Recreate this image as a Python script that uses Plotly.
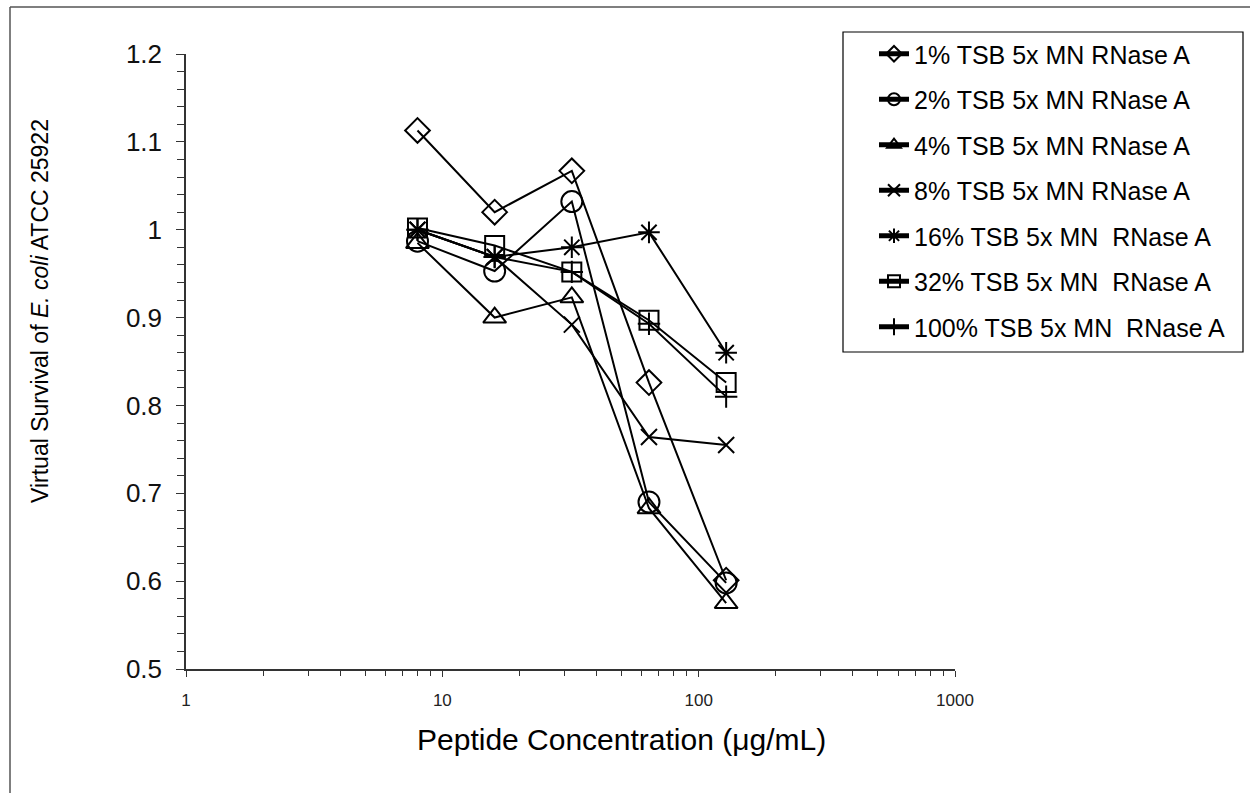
import plotly.graph_objects as go

conc = [8, 16, 32, 64, 128]
series_names = [
    "1% TSB 5x MN RNase A",
    "2% TSB 5x MN RNase A",
    "4% TSB 5x MN RNase A",
    "8% TSB 5x MN RNase A",
    "16% TSB 5x MN  RNase A",
    "32% TSB 5x MN  RNase A",
    "100% TSB 5x MN  RNase A",
]
tsb1 = [1.113, 1.020, 1.067, 0.826, 0.601]
tsb2 = [0.987, 0.953, 1.032, 0.690, 0.598]
tsb4 = [0.985, 0.900, 0.923, 0.683, 0.575]
tsb8 = [1.000, 0.969, 0.892, 0.764, 0.755]
tsb16 = [1.000, 0.969, 0.980, 0.997, 0.860]
tsb32 = [1.002, 0.982, 0.952, 0.897, 0.826]
tsb100 = [1.000, 0.969, 0.952, 0.893, 0.810]
series_values = [tsb1, tsb2, tsb4, tsb8, tsb16, tsb32, tsb100]

symbols = ["diamond-open", "circle-open", "triangle-up-open", "x-thin-open",
           "asterisk-open", "square-open", "cross-thin-open"]
sizes = [19, 21, 20, 16, 18, 19, 16]

x_tickvals = [1, 10, 100, 1000]
x_ticktext = ["1", "10", "100", "1000"]

FONT = "Liberation Sans, Arial, sans-serif"

fig = go.Figure()
for i, (name, vals) in enumerate(zip(series_names, series_values)):
    fig.add_trace(go.Scatter(
        x=conc, y=vals, name=name, mode="lines+markers",
        line=dict(color="black", width=2),
        marker=dict(symbol=symbols[i], size=sizes[i], color="black",
                    line=dict(color="black", width=2)),
        legendgroup=f"g{i}",
    ))

L, R, T, B = 186, 955, 54, 669
W, H = 1250, 793
pw, ph = R - L, B - T

def px(x):
    return (x - L) / pw

def py(y):
    return (B - y) / ph

fig.update_layout(
    width=W, height=H,
    margin=dict(l=L, r=W - R, t=T, b=H - B, autoexpand=False),
    paper_bgcolor="white", plot_bgcolor="white",
    font=dict(family=FONT, color="black"),
    showlegend=True,
    legend=dict(
        x=px(874), y=py(31), xanchor="left", yanchor="top",
        borderwidth=0,
        font=dict(size=25, family=FONT, color="black"),
        tracegroupgap=10, itemsizing="constant",
        traceorder="grouped",
        bgcolor="rgba(0,0,0,0)",
    ),
    xaxis=dict(
        type="log", range=[0, 3],
        tickvals=x_tickvals, ticktext=x_ticktext,
        ticks="outside", ticklen=6, tickwidth=1, tickcolor="#333",
        tickfont=dict(size=17, color="#222"),
        ticklabelstandoff=9,
        minor=dict(ticks="outside", ticklen=5, tickwidth=1, tickcolor="#333",
                   tickvals=[m * d for d in (1, 10, 100) for m in range(2, 10)]),
        showline=True, linecolor="#333", linewidth=1.5,
        showgrid=False, zeroline=False,
    ),
    yaxis=dict(
        range=[0.5, 1.2], dtick=0.1, tick0=0.5,
        ticks="outside", ticklen=8, tickwidth=1, tickcolor="#333",
        tickfont=dict(size=26, color="#111"),
        ticklabelstandoff=9,
        minor=dict(ticks="outside", ticklen=7, dtick=0.02, tickwidth=1, tickcolor="#333"),
        showline=True, linecolor="#333", linewidth=1.5,
        showgrid=False, zeroline=False,
    ),
    annotations=[
        dict(text="Virtual Survival of <i>E. coli</i> ATCC 25922",
             x=px(40), y=py(311), xref="paper", yref="paper",
             xanchor="center", yanchor="middle",
             textangle=-90, showarrow=False,
             font=dict(size=23, family=FONT, color="black")),
        dict(text="Peptide Concentration (\u03bcg/mL)",
             x=px(621), y=py(739), xref="paper", yref="paper",
             xanchor="center", yanchor="middle",
             showarrow=False,
             font=dict(size=30, family=FONT, color="black")),
    ],
    shapes=[
        dict(type="line", xref="paper", yref="paper",
             x0=px(10), y0=py(7), x1=px(1250), y1=py(7),
             line=dict(color="#555", width=1.5)),
        dict(type="line", xref="paper", yref="paper",
             x0=px(10), y0=py(7), x1=px(10), y1=py(793),
             line=dict(color="#555", width=1.5)),
        dict(type="rect", xref="paper", yref="paper",
             x0=px(843), y0=py(32), x1=px(1243), y1=py(352),
             line=dict(color="black", width=1.2), layer="above"),
    ],
)

fig.write_html("out.html", config={"displayModeBar": False},
               post_script="document.body.style.margin='0';")
